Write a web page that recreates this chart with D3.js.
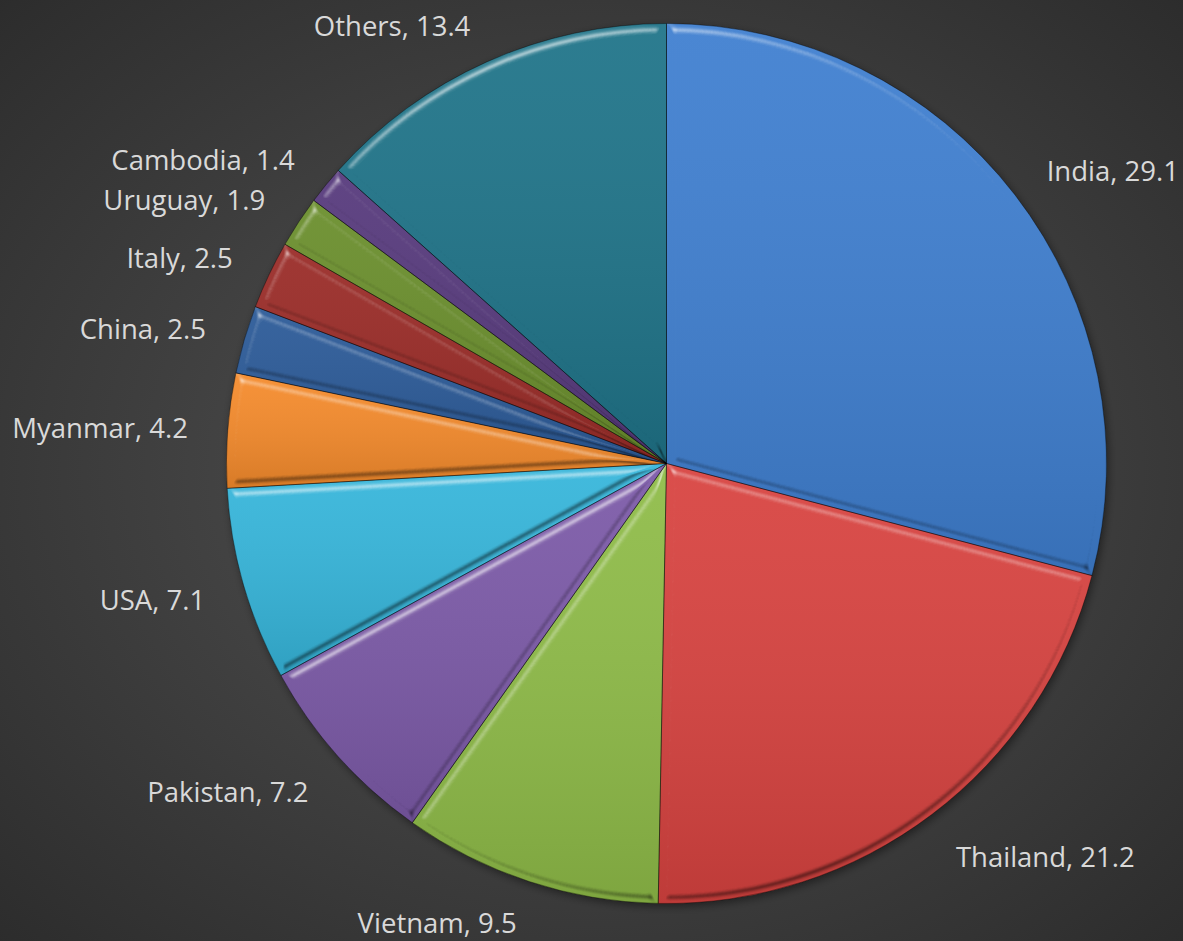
<!DOCTYPE html>
<html>
<head>
<meta charset="utf-8">
<script src="https://cdn.jsdelivr.net/npm/d3@7"></script>
<style>
  html, body { margin: 0; padding: 0; background: #333; }
  svg { display: block; }
</style>
</head>
<body>
<script>
const categories = ["India", "Thailand", "Vietnam", "Pakistan", "USA", "Myanmar", "China", "Italy", "Uruguay", "Cambodia", "Others"];
const values = [29.1, 21.2, 9.5, 7.2, 7.1, 4.2, 2.5, 2.5, 1.9, 1.4, 13.4];
const palette = ["#3f7fd0", "#d84340", "#8fbc48", "#7c5aa8", "#36b6db", "#f58b2c", "#2b5a98", "#9a2b27", "#6a8e2c", "#56397c", "#1f7489"];

const W = 1183, H = 941;
const cx = 666.5, cy = 463.5, R = 440, labelR = 480;

const svg = d3.select("body").append("svg").attr("width", W).attr("height", H);
const defs = svg.append("defs");

const bg = defs.append("radialGradient").attr("id", "bg")
  .attr("cx", "50%").attr("cy", "50%").attr("r", "75%");
bg.append("stop").attr("offset", "0%").attr("stop-color", "#545454");
bg.append("stop").attr("offset", "100%").attr("stop-color", "#2a2a2a");
svg.append("rect").attr("width", W).attr("height", H).attr("fill", "url(#bg)");

// subtle shading inside each slice
const shade = defs.append("linearGradient").attr("id", "shade")
  .attr("x1", 0).attr("y1", 0).attr("x2", 0).attr("y2", 1);
shade.append("stop").attr("offset", "0%").attr("stop-color", "#fff").attr("stop-opacity", 0.06);
shade.append("stop").attr("offset", "100%").attr("stop-color", "#000").attr("stop-opacity", 0.12);

// bevel filter
const f = defs.append("filter").attr("id", "bevel")
  .attr("color-interpolation-filters", "sRGB")
  .attr("x", "-5%").attr("y", "-5%").attr("width", "110%").attr("height", "110%");
f.append("feGaussianBlur").attr("in", "SourceAlpha").attr("stdDeviation", 4.5).attr("result", "blur");
const s1 = f.append("feSpecularLighting").attr("in", "blur").attr("surfaceScale", 7)
  .attr("specularConstant", 0.9).attr("specularExponent", 16).attr("lighting-color", "#fff").attr("result", "specL");
s1.append("feDistantLight").attr("azimuth", 250).attr("elevation", 35);
f.append("feColorMatrix").attr("in", "specL").attr("type", "matrix")
  .attr("values", "0 0 0 0 1  0 0 0 0 1  0 0 0 0 1  0 0 0 0.75 -0.12").attr("result", "hi");
const s2 = f.append("feSpecularLighting").attr("in", "blur").attr("surfaceScale", 7)
  .attr("specularConstant", 0.9).attr("specularExponent", 16).attr("lighting-color", "#fff").attr("result", "specD");
s2.append("feDistantLight").attr("azimuth", 70).attr("elevation", 35);
f.append("feColorMatrix").attr("in", "specD").attr("type", "matrix")
  .attr("values", "0 0 0 0 0  0 0 0 0 0  0 0 0 0 0  0 0 0 0.6 -0.12").attr("result", "lo");
f.append("feComposite").attr("in", "hi").attr("in2", "SourceAlpha").attr("operator", "in").attr("result", "hiIn");
f.append("feComposite").attr("in", "lo").attr("in2", "SourceAlpha").attr("operator", "in").attr("result", "loIn");
const m = f.append("feMerge");
m.append("feMergeNode").attr("in", "SourceGraphic");
m.append("feMergeNode").attr("in", "loIn");
m.append("feMergeNode").attr("in", "hiIn");

// drop shadow
const sh = defs.append("filter").attr("id", "shadow")
  .attr("x", "-10%").attr("y", "-10%").attr("width", "120%").attr("height", "120%");
sh.append("feGaussianBlur").attr("in", "SourceAlpha").attr("stdDeviation", 4).attr("result", "b");
sh.append("feOffset").attr("in", "b").attr("dx", 2).attr("dy", 3).attr("result", "o");
sh.append("feComponentTransfer").attr("in", "o").append("feFuncA").attr("type", "linear").attr("slope", 0.45);

const data = categories.map((c, i) => ({ name: c, value: values[i], color: palette[i] }));
const pie = d3.pie().sort(null).value(d => d.value);
const arc = d3.arc().innerRadius(0).outerRadius(R);
const arcs = pie(data);

const g = svg.append("g").attr("transform", `translate(${cx},${cy})`);
g.append("circle").attr("r", R).attr("fill", "#000").attr("filter", "url(#shadow)");

const slice = g.selectAll("g.slice").data(arcs).enter().append("g").attr("class", "slice")
  .attr("filter", "url(#bevel)");
slice.append("path").attr("d", arc).attr("fill", d => d.data.color);
slice.append("path").attr("d", arc).attr("fill", "url(#shade)");

g.selectAll("path.edge").data(arcs).enter().append("path")
  .attr("class", "edge")
  .attr("d", arc)
  .attr("fill", "none")
  .attr("stroke", "rgba(0,0,0,0.35)")
  .attr("stroke-width", 1);

svg.append("g").selectAll("text").data(arcs).enter().append("text")
  .each(function(d) {
    const a = (d.startAngle + d.endAngle) / 2;
    const s = Math.sin(a), c = Math.cos(a);
    const x = cx + labelR * s;
    let y = cy - labelR * c + 13 * Math.max(0, -c);
    y = Math.min(y, H - 19);
    d3.select(this)
      .attr("x", x).attr("y", y)
      .attr("text-anchor", s < 0 ? "end" : "start");
  })
  .attr("dominant-baseline", "central")
  .attr("font-family", "'Open Sans', sans-serif")
  .attr("font-size", 27.5)
  .attr("fill", "#d9d9d9")
  .text(d => `${d.data.name}, ${d.data.value}`);
</script>
</body>
</html>
